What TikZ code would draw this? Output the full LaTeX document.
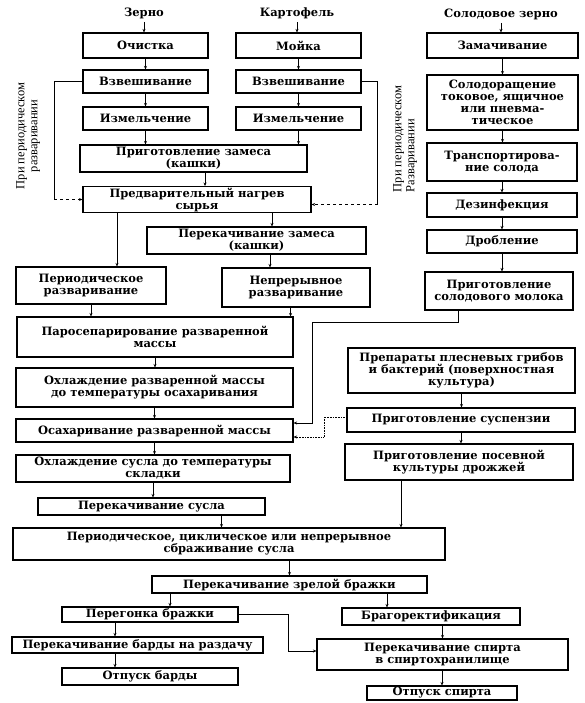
\documentclass[tikz,border=0pt]{standalone}
\usepackage{fontspec}
\setmainfont{DejaVu Serif}
\newfontfamily\sidefont{Liberation Serif}
\usetikzlibrary{arrows.meta}
\tikzset{
  >=Stealth,
  flow/.style={-{Stealth[length=3.5pt,width=3pt]},line width=0.6pt},
  stage/.style={rectangle,draw,line width=1.1pt,align=center,inner sep=1pt,font=\bfseries\fontsize{11.5}{12}\selectfont},
  head/.style={font=\bfseries\fontsize{11.5}{12}\selectfont},
  sidenote/.style={rotate=90,font=\sidefont\fontsize{12.5}{13}\selectfont,inner sep=0pt}
}
\begin{document}
\begin{tikzpicture}[x=1pt,y=-1pt]
    \fill[white] (0,0) rectangle (585,703);
    % Сырьё
    \node[head] (zerno) at (144,13) {Зерно};
    \node[head] (kartofel) at (297,13) {Картофель};
    \node[head] (solod) at (501,14) {Солодовое зерно};

    % Зерно и картофель
    \node[stage,minimum width=125,minimum height=25] (ochistka) at (145.5,45.5) {Очистка};
    \node[stage,minimum width=125,minimum height=23] (vzv1) at (145.5,81.5) {Взвешивание};
    \node[stage,minimum width=125,minimum height=23] (izm1) at (145.5,118.5) {Измельчение};
    \node[stage,minimum width=125,minimum height=25] (moika) at (298.5,45.5) {Мойка};
    \node[stage,minimum width=125,minimum height=23] (vzv2) at (298.5,81.5) {Взвешивание};
    \node[stage,minimum width=125,minimum height=23] (izm2) at (298.5,118.5) {Измельчение};
    \node[stage,minimum width=227,minimum height=27] (zames) at (193.5,158.5) {Приготовление замеса\\(кашки)};
    \node[stage,minimum width=228,minimum height=25] (nagrev) at (197,199.5) {Предварительный нагрев\\сырья};
    \node[stage,minimum width=219,minimum height=27] (perekzam) at (256.5,240.5) {Перекачивание замеса\\(кашки)};
    \node[stage,minimum width=150,minimum height=37] (periodrazv) at (91,285.5) {Периодическое\\разваривание};
    \node[stage,minimum width=148,minimum height=39] (neprrazv) at (296,287.5) {Непрерывное\\разваривание};
    \node[stage,minimum width=276,minimum height=40] (parosep) at (155,337) {Паросепарирование разваренной\\массы};
    \node[stage,minimum width=277,minimum height=39] (ohlrazv) at (154.5,387.5) {Охлаждение разваренной массы\\до температуры осахаривания};
    \node[stage,minimum width=277,minimum height=23] (osahar) at (154.5,430.5) {Осахаривание разваренной массы};
    \node[stage,minimum width=274,minimum height=27] (ohlsusl) at (153,468.5) {Охлаждение сусла до температуры\\складки};
    \node[stage,minimum width=227,minimum height=17] (perekusl) at (151.5,506.5) {Перекачивание сусла};
    \node[stage,minimum width=432,minimum height=32] (brozhenie) at (229,544) {Периодическое, циклическое или непрерывное\\сбраживание сусла};
    \node[stage,minimum width=275,minimum height=17] (perekbrazh) at (289.5,584.5) {Перекачивание зрелой бражки};
    \node[stage,minimum width=176,minimum height=15] (peregonka) at (150,614.5) {Перегонка бражки};
    \node[stage,minimum width=251,minimum height=16] (bardaper) at (137.5,645) {Перекачивание барды на раздачу};
    \node[stage,minimum width=176,minimum height=17] (bardaotp) at (150,676.5) {Отпуск барды};
    \node[stage,minimum width=178,minimum height=17] (bragorekt) at (431,616.5) {Брагоректификация};
    \node[stage,minimum width=251,minimum height=31] (spirtper) at (442.5,654.5) {Перекачивание спирта\\в спиртохранилище};
    \node[stage,minimum width=150,minimum height=14] (spirtotp) at (442,693) {Отпуск спирта};

    % Солод и культуры
    \node[stage,minimum width=151,minimum height=25] (zamach) at (502.5,45.5) {Замачивание};
    \node[stage,minimum width=151,minimum height=55] (solodorasch) at (502.5,102.5) {Солодоращение\\токовое, ящичное\\или пневма-\\тическое};
    \node[stage,minimum width=150,minimum height=38] (transp) at (502,162) {Транспортирова-\\ние солода};
    \node[stage,minimum width=150,minimum height=24] (dezinf) at (502,205) {Дезинфекция};
    \node[stage,minimum width=150,minimum height=23] (droblenie) at (502,241.5) {Дробление};
    \node[stage,minimum width=148,minimum height=38] (moloko) at (499,291) {Приготовление\\солодового молока};
    \node[stage,minimum width=227,minimum height=45] (preparaty) at (461.5,370.5) {Препараты плесневых грибов\\и бактерий (поверхностная\\культура)};
    \node[stage,minimum width=228,minimum height=24] (suspenz) at (461,420) {Приготовление суспензии};
    \node[stage,minimum width=228,minimum height=36] (posevn) at (459,462) {Приготовление посевной\\культуры дрожжей};

    % Подписи обходов
    \node[sidenote,align=center] (noteleft) at (28,136) {При периодическом\\разваривании};
    \node[sidenote,align=left] (noteright) at (405,139) {При периодическом\\Разваривании};

    % Стрелки
    \foreach \a/\b in {zerno/ochistka,ochistka/vzv1,vzv1/izm1,izm1/zames,kartofel/moika,moika/vzv2,vzv2/izm2,izm2/zames,
        solod/zamach,zamach/solodorasch,solodorasch/transp,transp/dezinf,dezinf/droblenie,droblenie/moloko,
        periodrazv/parosep,parosep/ohlrazv,ohlrazv/osahar,osahar/ohlsusl,ohlsusl/perekusl,preparaty/suspenz,suspenz/posevn}
        \draw[flow] (\a.south) -- (\a.south |- \b.north);
    \foreach \a/\b in {brozhenie/perekbrazh,bragorekt/spirtper,spirtper/spirtotp}
        \draw[flow] (\b.north |- \a.south) -- (\b.north);
    \draw[flow] ([xshift=11.5]zames.south) -- ([xshift=11.5]zames.south |- nagrev.north);
    \draw[flow] ([xshift=-80]nagrev.south) -- ([xshift=-80]nagrev.south |- periodrazv.north);
    \draw[flow] ([xshift=75]nagrev.south) -- ([xshift=75]nagrev.south |- perekzam.north);
    \draw[flow] ([xshift=13.5]perekzam.south) -- ([xshift=13.5]perekzam.south |- neprrazv.north);
    \draw[flow] ([xshift=-3]parosep.north east |- neprrazv.south) -- ([xshift=-3]parosep.north east);
    \draw[flow] ([xshift=70]perekusl.south) -- ([xshift=70]perekusl.south |- brozhenie.north);
    \draw[flow] ([xshift=-58]posevn.south) -- ([xshift=-58]posevn.south |- brozhenie.north);
    \draw[flow] ([xshift=20]peregonka.north |- perekbrazh.south) -- ([xshift=20]peregonka.north);
    \draw[flow] ([xshift=-44]bragorekt.north |- perekbrazh.south) -- ([xshift=-44]bragorekt.north);
    \draw[flow] ([xshift=-35]peregonka.south) -- ([xshift=-35]peregonka.south |- bardaper.north);
    \draw[flow] ([xshift=-35]bardaotp.north |- bardaper.south) -- ([xshift=-35]bardaotp.north);

    % Обходы при периодическом разваривании
    \coordinate (nagrevin) at ([yshift=-5]nagrev.east);
    \draw[line width=0.6pt] (vzv1.west) -- ++(-28,0) coordinate (lturn) -- (lturn |- nagrev.west);
    \draw[flow,dashed] (lturn |- nagrev.west) -- (nagrev.west);
    \draw[line width=0.6pt] (vzv2.east) -- ++(16,0) coordinate (rturn) -- (rturn |- nagrevin);
    \draw[flow,dashed] (rturn |- nagrevin) -- (nagrevin);

    % Солодовое молоко и суспензия
    \coordinate (mbend) at (312,322);
    \coordinate (sbend) at (324,437);
    \draw[flow] ([xshift=-41]moloko.south) |- (mbend) |- ([yshift=7.5]osahar.east);
    \draw[flow,densely dotted] ([yshift=3]suspenz.west) -| (sbend) |- ([yshift=-6.5]osahar.east);

    % Перегонка -> спирт
    \draw[flow] (peregonka.east) -- ++(50,0) coordinate (pturn) |- ([yshift=3.5]spirtper.west);
\end{tikzpicture}
\end{document}
